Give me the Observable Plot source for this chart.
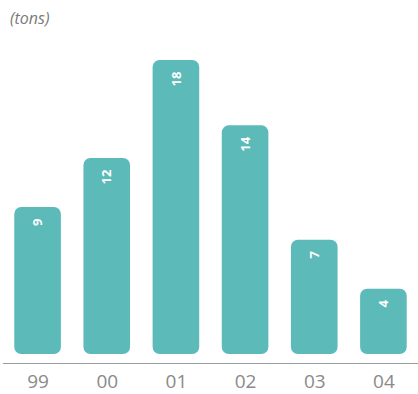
<!DOCTYPE html>
<html>
<head>
<meta charset="utf-8">
<script src="https://cdn.jsdelivr.net/npm/d3@7"></script>
<script src="https://cdn.jsdelivr.net/npm/@observablehq/plot@0.6"></script>
<style>
  body { margin: 0; background: #fff; }
  #wrap { position: relative; width: 418px; height: 394px; overflow: hidden; }
  #unit { position: absolute; left: 10px; top: 7px; font-family: "Open Sans", sans-serif; font-style: italic; font-size: 16px; color: #7a7a7a; }
  #chart { position: absolute; left: 0; top: 0; }
</style>
</head>
<body>
<div id="wrap">
  <div id="chart"></div>
  <div id="unit">(tons)</div>
</div>
<script>
const years = ["99", "00", "01", "02", "03", "04"];
const tons = [9, 12, 18, 14, 7, 4];
const data = years.map((y, i) => ({year: y, value: tons[i]}));

const chart = Plot.plot({
  width: 418,
  height: 394,
  marginLeft: 3,
  marginRight: 0,
  marginBottom: 31,
  marginTop: 40,
  style: {fontFamily: "Open Sans, sans-serif", background: "transparent"},
  x: {domain: years, range: [3, 418], round: false, paddingInner: 0.326, paddingOuter: 0.163, label: null},
  y: {domain: [0, 18], range: [354, 60], axis: null},
  marks: [
    Plot.frame({anchor: "bottom", stroke: "#9a9a9a", strokeWidth: 1.2}),
    Plot.barY(data, {x: "year", y: "value", fill: "#5cbab9", rx: 7}),
    Plot.text(data, {x: "year", y: "value", text: d => String(d.value), rotate: -90, textAnchor: "end", dy: 11, fill: "white", fontWeight: "bold", fontSize: 13}),
    Plot.axisX({tickSize: 0, tickPadding: 11, fontSize: 19, fill: "#8a8a8a", label: null})
  ]
});
document.getElementById("chart").appendChild(chart);
</script>
</body>
</html>
